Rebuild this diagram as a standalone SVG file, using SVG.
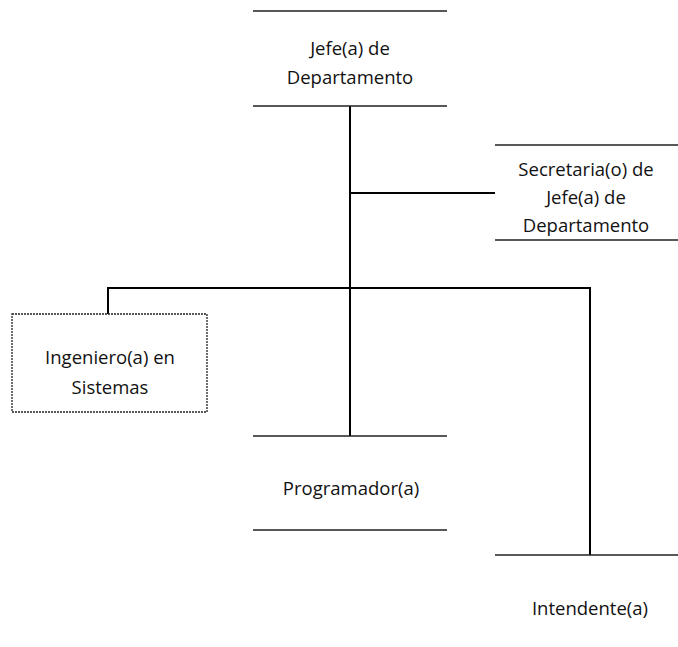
<svg xmlns="http://www.w3.org/2000/svg" width="678" height="647" viewBox="0 0 678 647">
<style>
text{font-family:"Open Sans","Noto Sans","Liberation Sans",sans-serif;font-size:18.5px;fill:#111;text-anchor:middle}
.b{stroke:#222;stroke-width:1.3;fill:none}
.c{stroke:#000;stroke-width:2;fill:none}
</style>
<rect width="678" height="647" fill="#fff"/>
<g id="connectors">
<path class="c" d="M350 106V436"/>
<path class="c" d="M350 193H495"/>
<path class="c" d="M108 314V288H590V555"/>
</g>
<g id="jefe">
<path class="b" d="M253 11H447M253 106H447"/>
<text x="350" y="55">Jefe(a) de</text>
<text x="350" y="84">Departamento</text>
</g>
<g id="secretaria">
<path class="b" d="M495 145H678M495 240H678"/>
<text x="586" y="176">Secretaria(o) de</text>
<text x="586" y="204">Jefe(a) de</text>
<text x="586" y="232">Departamento</text>
</g>
<g id="ingeniero">
<rect class="b" x="12" y="314" width="195" height="98" stroke-dasharray="2 1"/>
<text x="110" y="364">Ingeniero(a) en</text>
<text x="110" y="394">Sistemas</text>
</g>
<g id="programador">
<path class="b" d="M253 436H447M253 530H447"/>
<text x="351" y="495">Programador(a)</text>
</g>
<g id="intendente">
<path class="b" d="M495 555H678"/>
<text x="590" y="615">Intendente(a)</text>
</g>
</svg>
